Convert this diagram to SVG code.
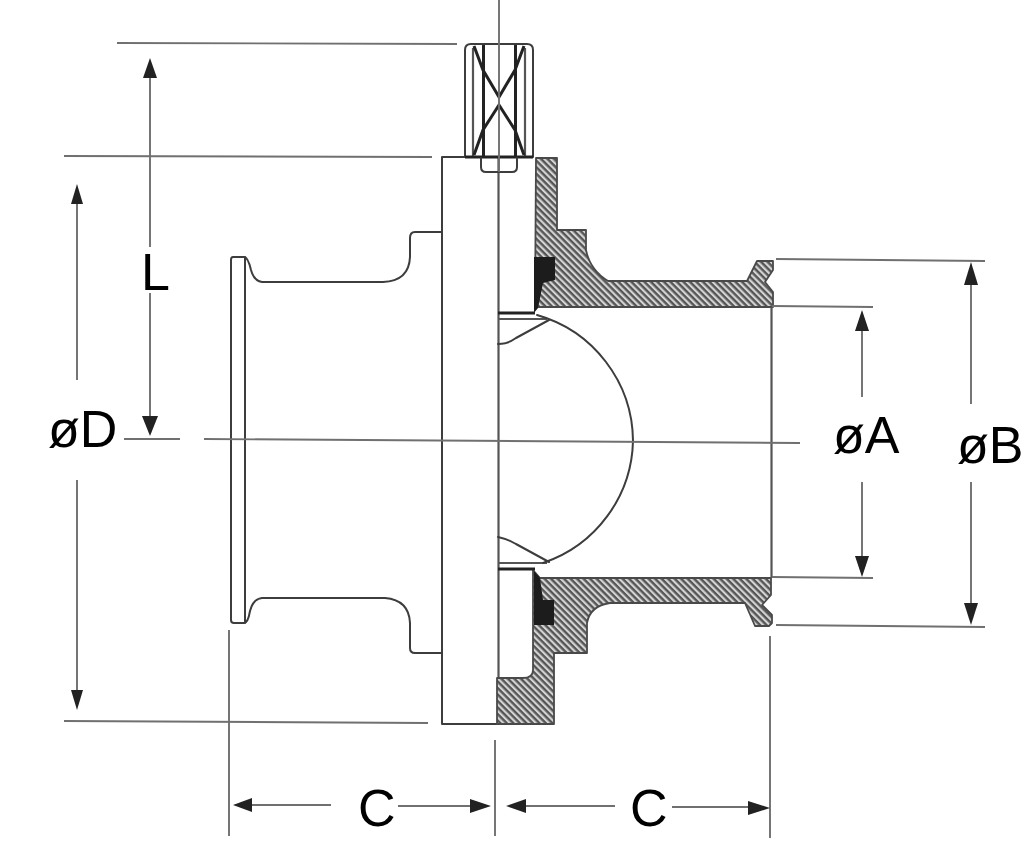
<svg xmlns="http://www.w3.org/2000/svg" width="1024" height="851" viewBox="0 0 1024 851">
<style>
.o{fill:none;stroke:#3c3c3c;stroke-width:2;stroke-linejoin:round;stroke-linecap:round}
.t{fill:none;stroke:#222;stroke-width:3}
.k{fill:none;stroke:#555;stroke-width:2.2}
.d{fill:none;stroke:#707070;stroke-width:1.9}
.s{fill:#1c1c1c;stroke:none}
.h{fill:url(#hatch);stroke:#4a4a4a;stroke-width:1.8;stroke-linejoin:round}
.a{fill:#222;stroke:none}
.soft{filter:url(#soft)}
text{font-family:"Liberation Sans",Arial,sans-serif;font-size:52px;fill:#000}
</style>
<defs>
<pattern id="hatch" width="4.6" height="4.6" patternUnits="userSpaceOnUse" patternTransform="rotate(45)">
<rect width="4.6" height="4.6" fill="#d4d4d4"/>
<rect width="4.6" height="2.4" fill="#555"/>
</pattern>
<filter id="soft" filterUnits="userSpaceOnUse" x="0" y="0" width="1024" height="851"><feGaussianBlur stdDeviation="0.45"/></filter>
</defs>
<g id="left-hub" class="soft">
<path class="o" d="M441 232H415Q410 232 410 238V257Q409 281 383 282H262Q254 281 251 270Q248 257 244 257H233Q231 257 231 260V620Q231 623 234 623H244Q248 623 250 611Q253 599 262 598H385Q409 600 410 623V648Q410 653 415 653H441"/>
<path class="o" d="M245 257V623"/>
</g>
<g id="body-plate" class="soft">
<path class="o" d="M442 157V724H498M442 157H498"/>
<path class="k" d="M498.500 157V724"/>
</g>
<g id="stem" class="soft">
<path class="o" d="M465 157V50Q465 44 471 44H527Q533 44 533 50V157"/>
<path class="k" d="M473 48V157M525 48V157"/>
<path class="t" d="M483.500 45V157M515.500 45V157"/>
<path class="t" d="M465 157H533"/>
<path class="t" d="M474 46L483 70L499 97L515 70L524 46M474 155L483 130L499 105L515 130L524 155" stroke-width="2.4"/>
<path class="o" d="M481 158V167Q481 172 486 172H512Q517 172 517 167V158" stroke-width="2.2"/>
</g>
<g id="upper-housing" class="soft">
<path class="h" d="M536 158H557V230H586V250Q590 270 608 281H747L757 261H773V270L765 282L773 292V307H535Z"/>
<path class="s" d="M534 257H555V280L543 283L538 308L534 313Z"/>
</g>
<g id="lower-housing" class="soft">
<path class="h" d="M540 578H771V595L762 605L772 615V623L769 626H755L745 603H610Q590 606 587 623V653H554V724H497V678H523Q533 678 533 670V570Z"/>
<path class="s" d="M534 571L540 578L543 600H554V625H534Z"/>
</g>
<g id="bore-end" class="soft">
<path class="k" d="M771.500 307V578"/>
</g>
<g id="ball" class="soft">
<path class="t" d="M498 313H535M498 569H535"/>
<path class="k" d="M498 319H547M498 563H547"/>
<path class="o" d="M498 344Q508 344 516 338L549 320M498 537Q508 539 516 544L549 562" stroke-width="2.2"/>
<path class="o" d="M537 315A132 132 0 0 1 633 441A132 132 0 0 1 543 563" stroke-width="2.2"/>
</g>
<g id="connectors" class="soft">
<path class="d" d="M117 43L457 44M64 156L432 157M64 721L428 723M124 439H180M204 439L800 443"/>
<path class="d" d="M499 0V172"/>
<path class="d" d="M776 259L985 261M772 306L873 307M772 577L873 578M776 625L985 627"/>
<path class="d" d="M229 630V836M495 740V836M770 636V838"/>
<path class="d" d="M150 70V247M150 293V420M77 196V380M77 480V695M862 320V397M862 482V565M971 275V404M971 482V612"/>
<path class="d" d="M245 805H331M398 806H480M518 806H615M672 807H758"/>
<polygon class="a" points="150,58 143,78 157,78"/>
<polygon class="a" points="150,436 142,416 158,416"/>
<polygon class="a" points="77,184 71,204 83,204"/>
<polygon class="a" points="77,710 71,690 83,690"/>
<polygon class="a" points="862,310 855,331 869,331"/>
<polygon class="a" points="862,577 855,556 869,556"/>
<polygon class="a" points="971,262 964,285 978,285"/>
<polygon class="a" points="971,625 964,603 978,603"/>
<polygon class="a" points="233,805 252,798 252,812"/>
<polygon class="a" points="491,806 470,799 470,813"/>
<polygon class="a" points="506,806 526,799 526,813"/>
<polygon class="a" points="770,808 748,801 748,815"/>
</g>
<g id="labels">
<text x="141" y="290">L</text>
<text x="48" y="447">øD</text>
<text x="833" y="453">øA</text>
<text x="957" y="463">øB</text>
<text x="358" y="826">C</text>
<text x="630" y="826">C</text>
</g>
</svg>
